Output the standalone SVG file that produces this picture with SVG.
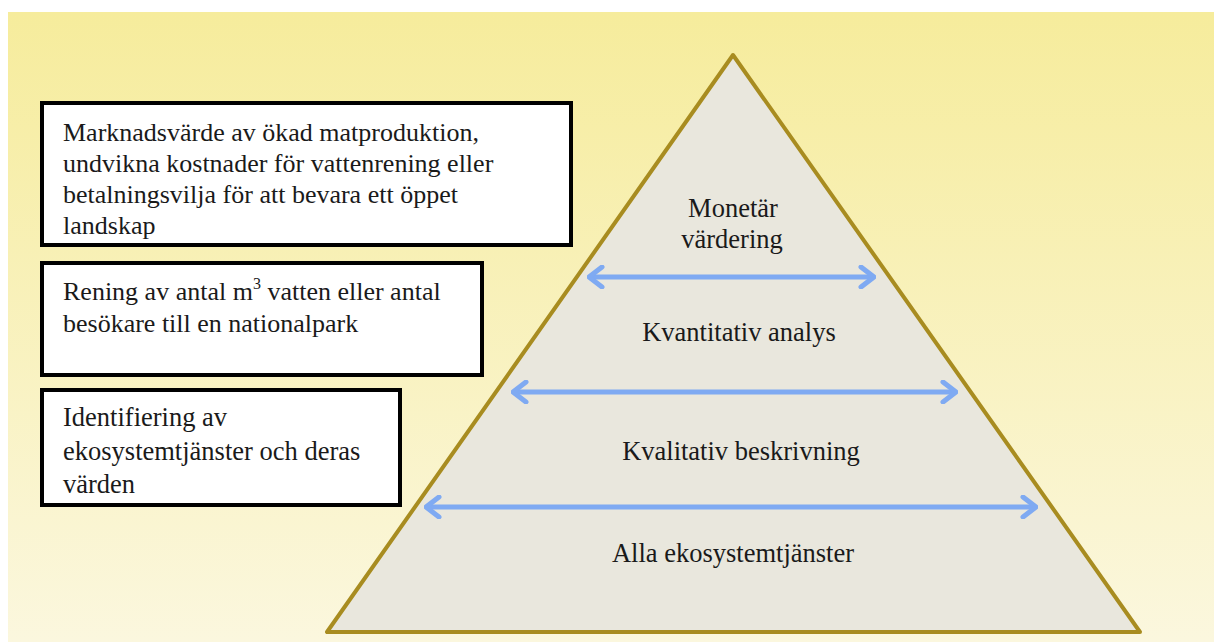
<svg xmlns="http://www.w3.org/2000/svg" width="1214" height="642" viewBox="0 0 1214 642">
<defs>
<linearGradient id="bg" x1="0" y1="0" x2="0" y2="1">
<stop offset="0" stop-color="#F6EC9C"/>
<stop offset="1" stop-color="#FBF7DE"/>
</linearGradient>
<marker id="ah" viewBox="0 0 18 24" refX="16" refY="12" markerWidth="18" markerHeight="24" markerUnits="userSpaceOnUse" orient="auto-start-reverse">
<path d="M3,2 L16,12 L3,22" fill="none" stroke="#7FAAF2" stroke-width="5" stroke-linecap="round" stroke-linejoin="round"/>
</marker>
<style>
.box{fill:#fff;stroke:#000;stroke-width:4}
.t{font-family:"Liberation Serif","Times New Roman",serif;font-size:26px;fill:#1a1a1a}
.p{font-size:26.5px;text-anchor:middle}
.b3{font-size:26.5px}
.arr{stroke:#7FAAF2;stroke-width:5;fill:none;marker-start:url(#ah);marker-end:url(#ah)}
</style>
</defs>
<rect x="0" y="0" width="1214" height="642" fill="#fff"/>
<rect x="8" y="12" width="1206" height="630" fill="url(#bg)"/>
<g id="pyramid">
<polygon points="733,55 327,632 1140,632" fill="#E9E7DD" stroke="#A88C20" stroke-width="4" stroke-linejoin="round"/>
<text class="t p" x="733" y="217">Monetär</text>
<text class="t p" x="732" y="248">värdering</text>
<text class="t p" x="739" y="341">Kvantitativ analys</text>
<text class="t p" x="741" y="460">Kvalitativ beskrivning</text>
<text class="t p" x="733" y="562">Alla ekosystemtjänster</text>
</g>
<g id="connectors">
<line class="arr" x1="589" y1="277" x2="874" y2="277"/>
<line class="arr" x1="513" y1="392" x2="956" y2="392"/>
<line class="arr" x1="426" y1="507" x2="1036" y2="507"/>
</g>
<g id="box1">
<rect class="box" x="42" y="103" width="529" height="142"/>
<text class="t" x="63" y="141">Marknadsvärde av ökad matproduktion,</text>
<text class="t" x="63" y="172">undvikna kostnader för vattenrening eller</text>
<text class="t" x="63" y="203">betalningsvilja för att bevara ett öppet</text>
<text class="t" x="63" y="234">landskap</text>
</g>
<g id="box2">
<rect class="box" x="42" y="263" width="440" height="112"/>
<text class="t" x="63" y="300">Rening av antal m<tspan dy="-11" font-size="16">3</tspan><tspan dy="11"> vatten eller antal</tspan></text>
<text class="t" x="63" y="332">besökare till en nationalpark</text>
</g>
<g id="box3">
<rect class="box" x="42" y="390" width="358" height="115"/>
<text class="t b3" x="63" y="426">Identifiering av</text>
<text class="t b3" x="63" y="460">ekosystemtjänster och deras</text>
<text class="t b3" x="63" y="493">värden</text>
</g>
</svg>
